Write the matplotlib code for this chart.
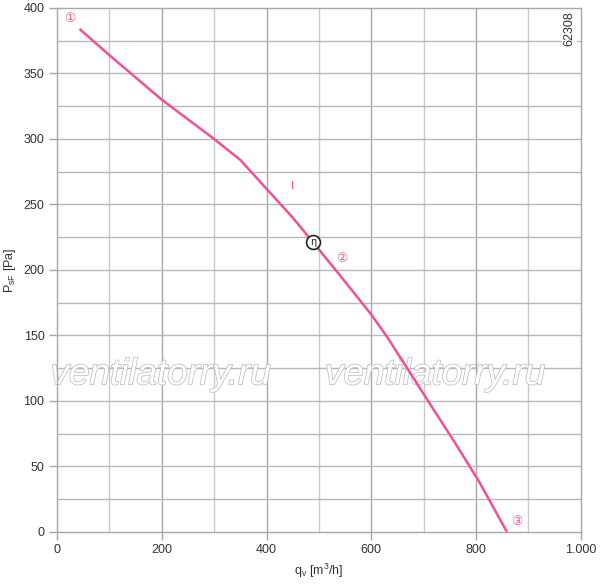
import matplotlib
matplotlib.use("Agg")
import matplotlib.pyplot as plt
import matplotlib.patheffects as pe
from matplotlib.ticker import FixedLocator

plt.rcParams['font.family'] = ['Liberation Sans', 'DejaVu Sans']
plt.rcParams['mathtext.fontset'] = 'custom'
plt.rcParams['mathtext.rm'] = 'Liberation Sans'
plt.rcParams['mathtext.it'] = 'Liberation Sans:italic'

# Data
qv = [43, 100, 200, 300, 350, 400, 450, 489, 534, 600, 630, 667, 710, 760, 805, 859]
psf = [384, 364, 330, 300, 284, 262, 240, 221, 199, 166, 149, 126, 99, 68, 39, 0]
x_ticks = [0, 200, 400, 600, 800, 1000]
x_labels = ['0', '200', '400', '600', '800', '1.000']
y_ticks = [0, 50, 100, 150, 200, 250, 300, 350, 400]
eta_point = (489, 221)

fig = plt.figure(figsize=(6.0, 5.87), dpi=100)
ax = fig.add_axes([0.095, 0.0937, 0.873, 0.8927])
ax.set_xlim(0, 1000)
ax.set_ylim(0, 400)

grid_dark = '#a8a8a8'
grid_light = '#cacaca'
for x in range(100, 1000, 100):
    ax.axvline(x, color=grid_dark if x % 200 == 0 else grid_light, lw=1.0, zorder=1)
for y in range(25, 400, 25):
    ax.axhline(y, color='#b8b8b8', lw=1.0, zorder=1)

for s in ax.spines.values():
    s.set_color('#a8a8a8')
    s.set_linewidth(1.0)

ax.xaxis.set_major_locator(FixedLocator(x_ticks))
ax.set_xticklabels(x_labels)
ax.yaxis.set_major_locator(FixedLocator(y_ticks))
ax.tick_params(axis='both', direction='out', length=6, width=1.0, color='#a8a8a8',
               labelsize=9, labelcolor='#333333', pad=3)

ax.plot(qv, psf, color='#f0509a', lw=1.8, zorder=3, solid_capstyle='butt',
        solid_joinstyle='round')

ax.set_xlabel(r'q$_{\rm v}$ [m$^{\rm 3}$/h]', fontsize=9, color='#333333', labelpad=4)
ax.set_ylabel(r'P$_{\rm sF}$ [Pa]', fontsize=9, color='#333333', labelpad=4)

# Annotations
pink = '#f0509a'
ax.text(25, 392, '\u2460', color=pink, fontsize=9, ha='center', va='center',
        family=['DejaVu Sans'], zorder=4)
ax.text(544, 209, '\u2461', color=pink, fontsize=9, ha='center', va='center',
        family=['DejaVu Sans'], zorder=4)
ax.text(878, 8, '\u2462', color=pink, fontsize=9, ha='center', va='center',
        family=['DejaVu Sans'], zorder=4)
ax.text(450, 264, 'I', color=pink, fontsize=8, ha='center', va='center', zorder=4)

ax.plot([eta_point[0]], [eta_point[1]], marker='o', ms=10, mfc='white', mec='#222222',
        mew=1.2, zorder=5)
ax.text(eta_point[0], eta_point[1], '\u03b7', fontsize=7, ha='center', va='center',
        color='#222222', zorder=6, family=['DejaVu Sans'])

ax.text(979, 384, '62308', rotation=90, fontsize=9, color='#333333', ha='center',
        va='center', zorder=4,
        bbox=dict(facecolor='white', edgecolor='none', pad=1))

# Watermark
for xc in (198, 722):
    t = ax.text(xc, 120, 'ventilatorry.ru', fontsize=26.5, style='italic', color='white',
                ha='center', va='center', zorder=2)
    t.set_path_effects([pe.Stroke(linewidth=1.1, foreground='#bdbdbd'), pe.Normal()])

fig.savefig('out.png', dpi=100)
